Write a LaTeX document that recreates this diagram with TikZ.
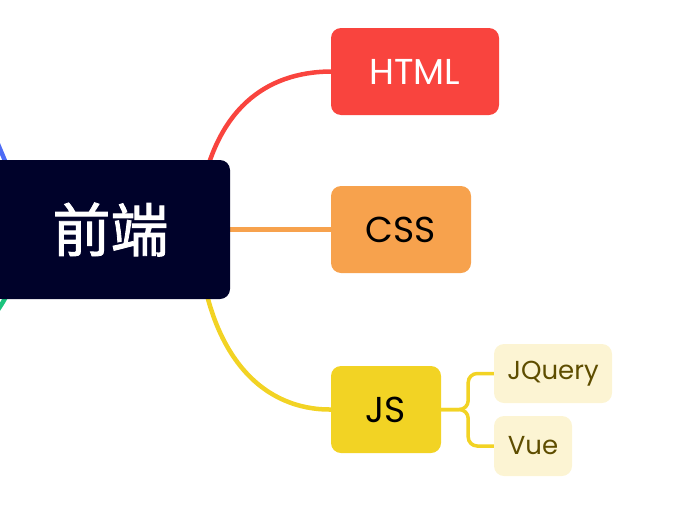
\documentclass[tikz,border=0pt]{standalone}
\usepackage{fontspec}
\setmainfont{Poppins}
\newfontfamily\cjk[FakeBold=1.5]{Noto Sans CJK SC}
\usetikzlibrary{backgrounds}
\definecolor{rootc}{HTML}{00022A}
\definecolor{redc}{HTML}{F9443E}
\definecolor{orangec}{HTML}{F7A24D}
\definecolor{yellowc}{HTML}{F2D324}
\definecolor{lightyc}{HTML}{FCF4D3}
\definecolor{olivec}{HTML}{5E4D00}
\definecolor{bluec}{HTML}{4D6BF5}
\definecolor{greenc}{HTML}{1BC47D}
\tikzset{
  box/.style={rectangle, rounded corners=10pt, inner sep=0pt, font=\fontsize{36}{42}\selectfont},
  subbox/.style={rectangle, rounded corners=10pt, inner sep=0pt, fill=lightyc, text=olivec, font=\fontsize{26}{32}\selectfont},
  edge/.style={line width=4.5pt},
}
\begin{document}
\begin{tikzpicture}[x=1pt,y=-1pt]
\useasboundingbox (0,0) rectangle (684,522);
\clip (0,0) rectangle (684,522);
\node[box, fill=rootc, text=white, minimum width=239pt, minimum height=139pt, font=\cjk\fontsize{58}{62}\selectfont] (root) at (110.5,229.5) {前端};
\node[box, fill=redc, text=white, minimum width=168pt, minimum height=87pt] (html) at (415,71.5) {HTML};
\node[box, fill=orangec, text=black, minimum width=140pt, minimum height=87pt] (css) at (401,229.5) {CSS};
\node[box, fill=yellowc, text=black, minimum width=110pt, minimum height=87pt] (js) at (386,409.5) {JS};
\node[subbox, minimum width=118pt, minimum height=59pt] (jq) at (553,373.5) {JQuery};
\node[subbox, minimum width=78pt, minimum height=60pt] (vue) at (533,446) {Vue};
\coordinate (rtop) at (200,200);
\coordinate (rbot) at (200,258);
\coordinate (bl1) at (30,220);
\coordinate (bl2) at (-10,125);
\coordinate (gr1) at (30,240);
\coordinate (gr2) at (-8,318);
\begin{scope}[on background layer]
\draw[edge, redc] (rtop) .. controls (215,110) and (265,72) .. (html.west);
\draw[edge, yellowc] (rbot) .. controls (213,360) and (265,410) .. (js.west);
\draw[edge, orangec] (root.center) -- (css.west);
\draw[edge, bluec] (bl1) .. controls (15,185) and (8,168) .. (bl2);
\draw[edge, greenc] (gr1) .. controls (15,275) and (12,292) .. (gr2);
\draw[line width=3.5pt, yellowc, rounded corners=9pt] (js.east) -- ++(27,0) |- (jq.west);
\draw[line width=3.5pt, yellowc, rounded corners=9pt] (js.east) -- ++(27,0) |- (vue.west);
\end{scope}
\end{tikzpicture}
\end{document}
